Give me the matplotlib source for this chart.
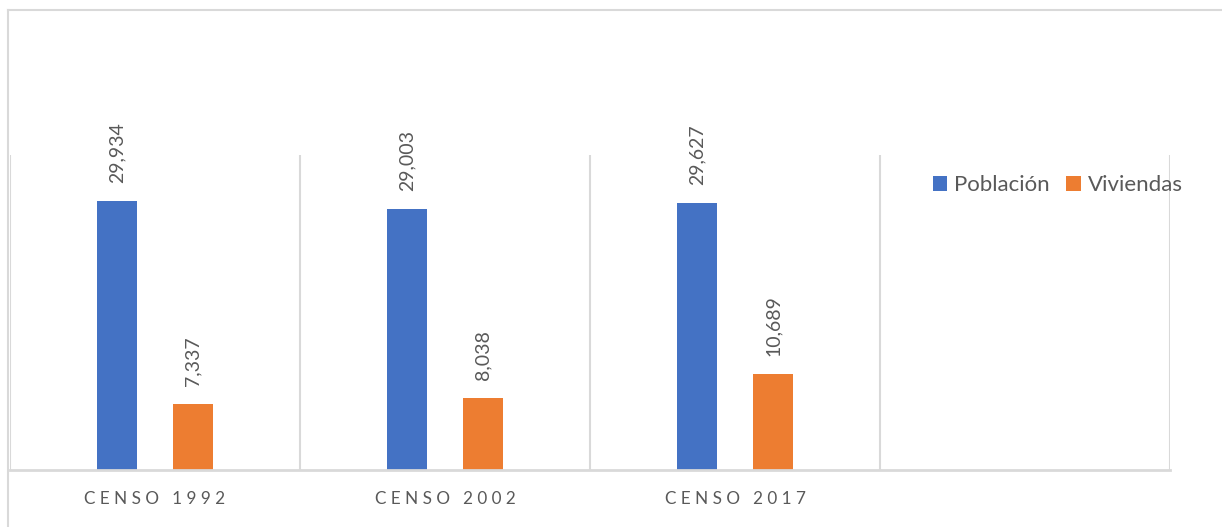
"""Población y viviendas por censo (1992, 2002, 2017)."""

import matplotlib

matplotlib.use("Agg")
import matplotlib.pyplot as plt
import numpy as np
from matplotlib.lines import Line2D

categories = ["CENSO 1992", "CENSO 2002", "CENSO 2017", ""]
poblacion = [29934, 29003, 29627, np.nan]
viviendas = [7337, 8038, 10689, np.nan]
series_names = ["Población", "Viviendas"]

BLUE = "#4472C4"
ORANGE = "#ED7D31"
TEXT = "#595959"
GRID = "#D9D9D9"

plt.rcParams["font.family"] = ["Lato", "DejaVu Sans"]


def spaced(label):
    # Excel draws these axis labels with wide letter spacing
    words = label.split(" ")
    return "   ".join(" ".join(w) for w in words)


fig = plt.figure(figsize=(12.22, 5.27), dpi=100)
ax = fig.add_axes([10 / 1222, 57 / 527, 1160 / 1222, 315 / 527])

x = np.arange(len(categories))
width = 0.138
offset = 0.131
bars_p = ax.bar(x - offset, poblacion, width, color=BLUE, label=series_names[0])
bars_v = ax.bar(x + offset, viviendas, width, color=ORANGE, label=series_names[1])

for bars, values in [(bars_p, poblacion), (bars_v, viviendas)]:
    for rect, val in zip(bars, values):
        if np.isnan(val):
            continue
        ax.annotate(
            f"{val:,.0f}",
            (rect.get_x() + rect.get_width() / 2, val),
            xytext=(0, 13),
            textcoords="offset points",
            rotation=90,
            ha="center",
            va="bottom",
            fontsize=14,
            color=TEXT,
        )

ax.set_xlim(-0.5, len(categories) - 0.5)
ax.set_ylim(0, 35000)
ax.set_xticks(x)
ax.set_xticklabels([spaced(c) for c in categories], fontsize=12.3, color=TEXT)
ax.set_yticks([])
ax.tick_params(axis="x", length=0, pad=15)

# separators between categories
for b in np.arange(-0.5, len(categories), 1.0):
    ax.axvline(b, color=GRID, lw=1.5, zorder=0)

for side in ["top", "right", "left"]:
    ax.spines[side].set_visible(False)
ax.spines["bottom"].set_color(GRID)
ax.spines["bottom"].set_linewidth(2)

leg = ax.legend(
    loc="center left",
    bbox_to_anchor=(933 / 1222, (527 - 185) / 527),
    bbox_transform=fig.transFigure,
    ncol=2,
    frameon=False,
    fontsize=16,
    handlelength=0.65,
    handleheight=0.65,
    handletextpad=0.3,
    columnspacing=0.75,
    borderpad=0,
    borderaxespad=0,
)
for t in leg.get_texts():
    t.set_color(TEXT)

# chart border (top and left edges)
fig.add_artist(Line2D([8 / 1222, 1], [517 / 527, 517 / 527], color=GRID, lw=1.5))
fig.add_artist(Line2D([8 / 1222, 8 / 1222], [0, 517 / 527], color=GRID, lw=1.5))

fig.savefig("out.png", dpi=100)
